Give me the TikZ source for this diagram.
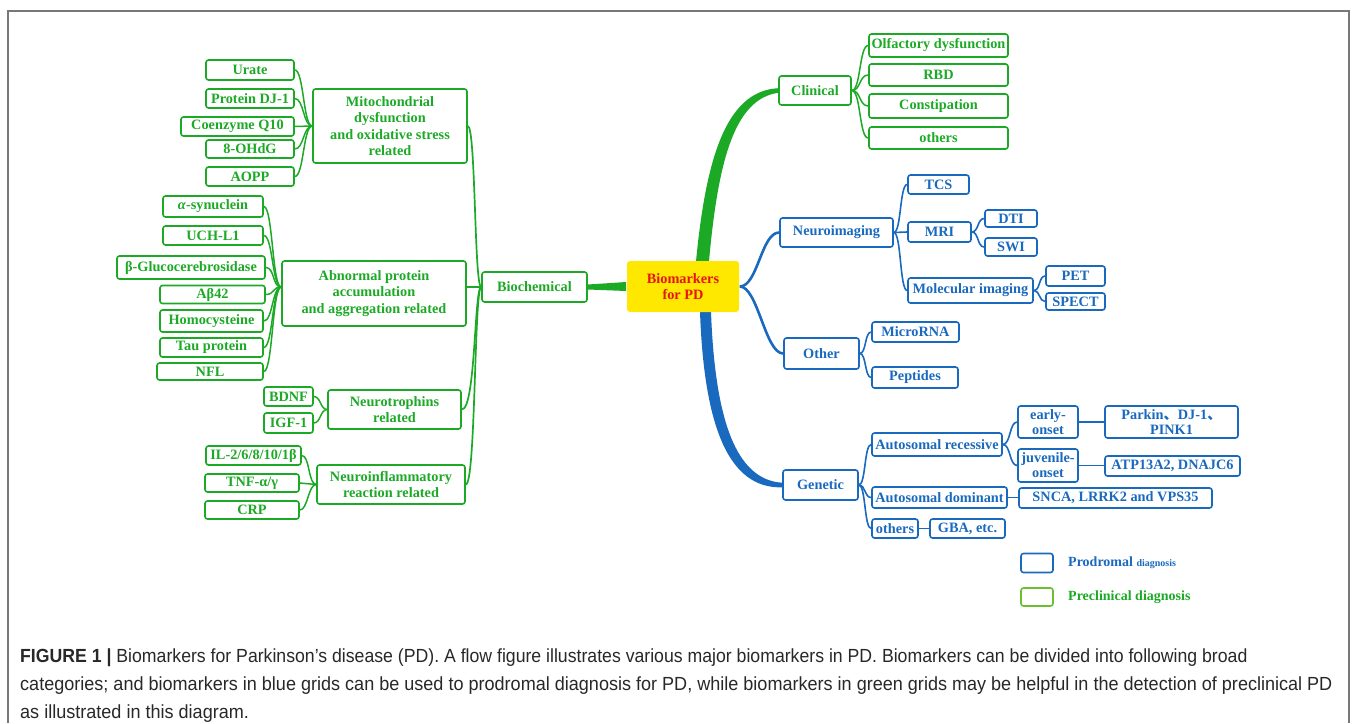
\documentclass[tikz,border=0pt]{standalone}
\usepackage{fontspec}
\usepackage{graphicx}
\setmainfont{Liberation Serif}
\newfontfamily\cjk{Noto Sans CJK SC}
\newfontfamily\capfont[FakeStretch=0.95]{Liberation Sans}
\usetikzlibrary{calc}
\pgfdeclarelayer{background}
\pgfsetlayers{background,main}
\definecolor{grn}{RGB}{28,170,38}
\definecolor{blu}{RGB}{25,105,190}
\definecolor{yel}{RGB}{255,232,0}
\definecolor{redt}{RGB}{230,20,20}
\definecolor{lgrn}{RGB}{110,190,50}
\definecolor{frm}{RGB}{120,120,120}
\definecolor{capc}{RGB}{40,40,40}
\begin{document}
\begin{tikzpicture}[x=1pt,y=-1pt,
  box/.style={draw, line width=1.6pt, rounded corners=2.5pt, inner sep=1pt, align=center,
    font=\bfseries\fontsize{14.3}{16.5}\selectfont},
  gb/.style={box, draw=grn, text=grn},
  bb/.style={box, draw=blu, text=blu},
  sz/.style 2 args={minimum width=#1pt, minimum height=#2pt},
  gl/.style={draw=grn, line width=1.5pt},
  bl/.style={draw=blu, line width=1.6pt},
  br/.style={out=0,in=180,out distance=#1,in distance=#1},
  br/.default=9pt,
  brr/.style 2 args={out=0,in=180,out distance=#1,in distance=#2}]
\useasboundingbox (0,0) rectangle (1356,723);
\draw[frm, line width=1.2pt] (8,723) -- (8,11) -- (1349,11) -- (1349,723);

% ---------- left (green) ----------
\node[gb, sz={88}{20}] (urate) at (250,70) {Urate};
\node[gb, sz={88}{19}] (dj1) at (250,98.5) {Protein DJ-1};
\node[gb, sz={113}{19}] (coq) at (237.5,126.5) {Coenzyme Q10};
\node[gb, sz={88}{18}] (ohdg) at (250,149) {8-OHdG};
\node[gb, sz={88}{19}] (aopp) at (250,176.5) {AOPP};
\node[gb, sz={154}{74}] (mito) at (390,126) {Mitochondrial\\dysfunction\\and oxidative stress\\related};

\node[gb, sz={100}{21}] (asyn) at (213,206.5) {\textit{α}-synuclein};
\node[gb, sz={100}{19}] (uch) at (213,235.5) {UCH-L1};
\node[gb, sz={148}{23}] (gluc) at (191,267.5) {β-Glucocerebrosidase};
\node[gb, sz={105}{18}] (abeta) at (212.5,294.5) {Aβ42};
\node[gb, sz={103}{22}] (homo) at (211.5,321) {Homocysteine};
\node[gb, sz={103}{19}] (tau) at (211.5,347.5) {Tau protein};
\node[gb, sz={106}{17}] (nfl) at (210,371.5) {NFL};
\node[gb, sz={184}{65}] (abn) at (374,293.5) {Abnormal protein\\accumulation\\and aggregation related};

\node[gb, sz={49}{19}] (bdnf) at (288.5,396.5) {BDNF};
\node[gb, sz={49}{20}] (igf) at (288.5,423) {IGF-1};
\node[gb, sz={133}{39}] (neurot) at (394.5,409.5) {Neurotrophins\\related};

\node[gb, sz={95}{19}] (il) at (253.5,455.5) {IL-2/6/8/10/1β};
\node[gb, sz={94}{18}] (tnf) at (252,483) {TNF-α/γ};
\node[gb, sz={94}{18}] (crp) at (252,510) {CRP};
\node[gb, sz={148}{39}] (ninf) at (391,484.5) {Neuroinflammatory\\reaction related};

\node[gb, sz={105}{30}] (bio) at (534.5,287) {Biochemical};

% ---------- centre ----------
\node[box, draw=none, fill=yel, text=redt, rounded corners=3pt, sz={112}{51}] (cen) at (683,286.5) {Biomarkers\\for PD};

% ---------- right ----------
\node[gb, sz={72}{29}] (clin) at (815,90.5) {Clinical};
\node[gb, sz={139}{23}] (olf) at (938.5,45.5) {Olfactory dysfunction};
\node[gb, sz={139}{22}] (rbd) at (938.5,75) {RBD};
\node[gb, sz={139}{24}] (const) at (938.5,106) {Constipation};
\node[gb, sz={139}{22}] (oth1) at (938.5,138) {others};

\node[bb, sz={113}{29}] (neuro) at (836.5,232.5) {Neuroimaging};
\node[bb, sz={61}{19}] (tcs) at (938.5,184.5) {TCS};
\node[bb, sz={63}{20}] (mri) at (939.5,232) {MRI};
\node[bb, sz={52}{17}] (dti) at (1011,218.5) {DTI};
\node[bb, sz={52}{18}] (swi) at (1011,247) {SWI};
\node[bb, sz={125}{25}] (mol) at (970.5,290.5) {Molecular imaging};
\node[bb, sz={59}{20}] (pet) at (1075.5,276) {PET};
\node[bb, sz={59}{17}] (spect) at (1075.5,301.5) {SPECT};

\node[bb, sz={75}{31}] (other) at (821.5,353.5) {Other};
\node[bb, sz={87}{20}] (mirna) at (915.5,332) {MicroRNA};
\node[bb, sz={86}{21}] (pept) at (915,377.5) {Peptides};

\node[bb, sz={75}{30}] (gen) at (820.5,485) {Genetic};
\node[bb, sz={130}{23}] (ar) at (937,444.5) {Autosomal recessive};
\node[bb, sz={60}{32}, font=\bfseries\fontsize{14.3}{15}\selectfont] (early) at (1048,422) {early-\\onset};
\node[bb, sz={133}{32}, font=\bfseries\fontsize{14.3}{15}\selectfont] (parkin) at (1171.5,422) {Parkin{\cjk 、}DJ-1{\cjk 、}\\PINK1};
\node[bb, sz={60}{33}, font=\bfseries\fontsize{14.3}{15}\selectfont] (juv) at (1048,465.5) {juvenile-\\onset};
\node[bb, sz={135}{20}] (atp) at (1172.5,466) {ATP13A2, DNAJC6};
\node[bb, sz={135}{21}] (ad) at (939.5,497.5) {Autosomal dominant};
\node[bb, sz={193}{20}] (snca) at (1115.5,498) {SNCA, LRRK2 and VPS35};
\node[bb, sz={46}{19}] (oth2) at (895,528.5) {others};
\node[bb, sz={75}{19}] (gba) at (967.5,528.5) {GBA, etc.};

% ---------- legend ----------
\node[box, draw=blu, sz={32}{19}] (lb) at (1037,563) {};
\node[box, draw=lgrn, sz={32}{18}] (lg) at (1037,597) {};
\node[anchor=west, inner sep=0, text=blu, font=\bfseries\fontsize{14}{16}\selectfont] (lbt) at (1068,563) {Prodromal {\fontsize{10}{12}\selectfont diagnosis}};
\node[anchor=west, inner sep=0, text=grn, font=\bfseries\fontsize{14}{16}\selectfont] (lgt) at (1068,597) {Preclinical diagnosis};

% ---------- caption ----------
\begin{scope}[every node/.style={anchor=base west, inner sep=0, text=capc, font=\capfont\fontsize{19}{21}\selectfont}]
\node (cap1) at (20,662) {\scalebox{0.979}[1]{{\bfseries FIGURE 1 |} Biomarkers for Parkinson’s disease (PD). A flow figure illustrates various major biomarkers in PD. Biomarkers can be divided into following broad}};
\node (cap2) at (20,690) {categories; and biomarkers in blue grids can be used to prodromal diagnosis for PD, while biomarkers in green grids may be helpful in the detection of preclinical PD};
\node (cap3) at (20,718) {as illustrated in this diagram.};
\end{scope}

% ---------- connectors ----------
\begin{pgfonlayer}{background}
\foreach \c in {urate,dj1,coq,ohdg,aopp} \draw[gl] (\c.east) to[br=9pt] (mito.west);
\foreach \c in {asyn,uch,gluc,abeta,homo,tau,nfl} \draw[gl] (\c.east) to[br=9pt] (abn.west |- bio.center);
\foreach \c in {bdnf,igf} \draw[gl] (\c.east) to[br=7pt] (neurot.west);
\foreach \c in {il,tnf,crp} \draw[gl] (\c.east) to[br=8pt] (ninf.west);
\draw[gl, line width=1.7pt] (mito.east) to[brr={8pt}{7pt}] (bio.west);
\draw[gl, line width=1.7pt] (abn.east |- bio.center) -- (bio.west);
\draw[gl, line width=1.7pt] (neurot.east) to[brr={14pt}{7pt}] (bio.west);
\draw[gl, line width=1.7pt] (ninf.east) to[brr={10pt}{7pt}] (bio.west);

\fill[grn] ($(bio.east)+(0,-2.5)$) -- ($(cen.west)+(0,-4.5)$) -- ($(cen.west)+(0,4.5)$) -- ($(bio.east)+(0,2.5)$) -- cycle;
\fill[grn] ($(cen.north)+(13,1)$) .. controls (706,158) and (726,91) .. ($(clin.west)+(0,-2.3)$)
  -- ($(clin.west)+(0,2.3)$) .. controls (734,99) and (718,162) .. ($(cen.north)+(26,1)$) -- cycle;
\fill[blu] ($(cen.south)+(17,-1)$) .. controls (704,425) and (728,489) .. ($(gen.west)+(0,2.3)$)
  -- ($(gen.west)+(0,-2.3)$) .. controls (736,480) and (715,420) .. ($(cen.south)+(28,-1)$) -- cycle;
\draw[blu, line width=2.6pt] (cen.east) to[br=18pt] (neuro.west);
\draw[blu, line width=2.6pt] (cen.east) to[br=18pt] (other.west);

\foreach \c in {olf,rbd,const,oth1} \draw[gl] (clin.east) to[br=9pt] (\c.west);
\foreach \c in {tcs,mri,mol} \draw[bl] (neuro.east) to[br=7.5pt] (\c.west);
\foreach \c in {dti,swi} \draw[bl] (mri.east) to[br=7pt] (\c.west);
\foreach \c in {pet,spect} \draw[bl] (mol.east) to[br=6.5pt] (\c.west);
\foreach \c in {mirna,pept} \draw[bl] (other.east) to[br=6.5pt] (\c.west);
\foreach \c in {ar,ad,oth2} \draw[bl] (gen.east) to[br=7pt] (\c.west);
\foreach \c in {early,juv} \draw[bl] (ar.east) to[br=8pt] (\c.west);
\draw[bl] (early.east) -- (parkin.west);
\draw[bl] (juv.east) -- (juv.east -| atp.west);
\draw[bl] (ad.east) -- (ad.east -| snca.west);
\draw[bl] (oth2.east) -- (gba.west);
\end{pgfonlayer}
\end{tikzpicture}
\end{document}
